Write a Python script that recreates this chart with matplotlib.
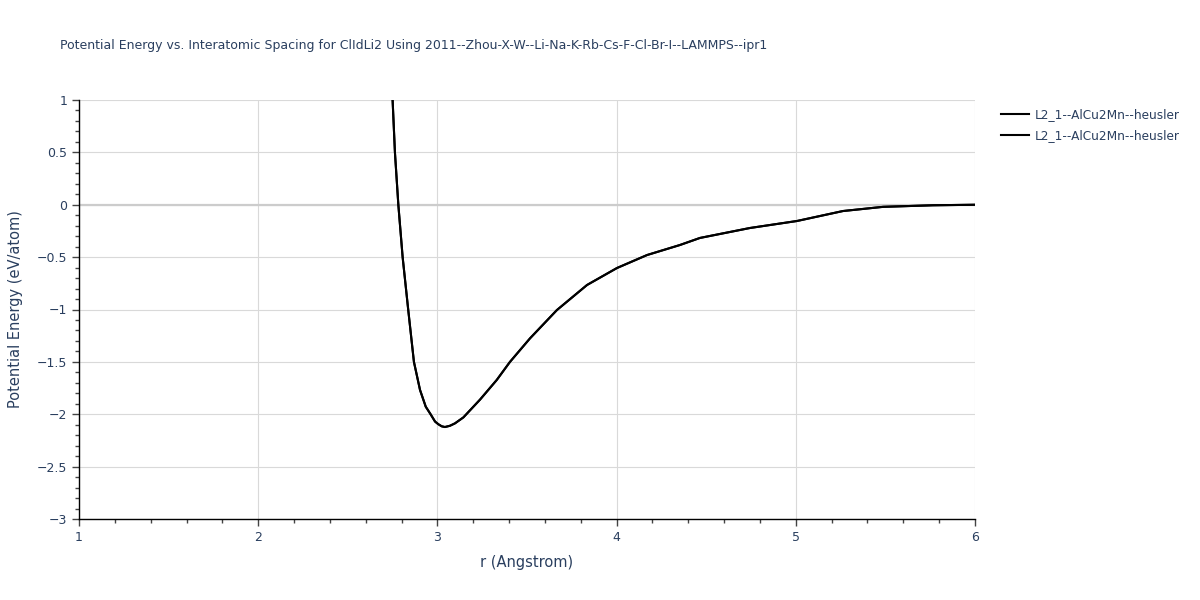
import numpy as np
import matplotlib
matplotlib.use("Agg")
import matplotlib.pyplot as plt
from matplotlib.ticker import MultipleLocator

# Data
r = [2.75, 2.763, 2.782, 2.806, 2.837, 2.869, 2.903, 2.935, 2.962, 2.987,
     3.005, 3.024, 3.042, 3.07, 3.098, 3.145, 3.238, 3.331, 3.405, 3.517,
     3.667, 3.835, 4.002, 4.17, 4.354, 4.465, 4.744, 5.007, 5.263, 5.487,
     5.766, 6.0]
energy = [1.0, 0.5, 0.0, -0.5, -1.0, -1.5, -1.768, -1.928, -2.0, -2.07,
          -2.095, -2.115, -2.122, -2.11, -2.087, -2.03, -1.86, -1.673, -1.50, -1.275,
          -1.005, -0.766, -0.604, -0.48, -0.384, -0.317, -0.222, -0.155, -0.06, -0.02,
          -0.005, 0.0]
series_names = ["L2_1--AlCu2Mn--heusler", "L2_1--AlCu2Mn--heusler"]

title = "Potential Energy vs. Interatomic Spacing for ClIdLi2 Using 2011--Zhou-X-W--Li-Na-K-Rb-Cs-F-Cl-Br-I--LAMMPS--ipr1"
text_col = "#2a3f5f"

fig = plt.figure(figsize=(12, 6), dpi=100)
ax = fig.add_axes([79/1200, 1-519/600, (975-79)/1200, (519-100)/600])

for name in series_names:
    ax.plot(r, energy, color="black", lw=1.5, label=name, solid_joinstyle="round")

ax.set_xlim(1, 6)
ax.set_ylim(-3, 1)
ax.xaxis.set_major_locator(MultipleLocator(1))
ax.xaxis.set_minor_locator(MultipleLocator(0.2))
ax.yaxis.set_major_locator(MultipleLocator(0.5))
ax.yaxis.set_minor_locator(MultipleLocator(0.1))
ax.yaxis.set_major_formatter(plt.FuncFormatter(lambda v, p: ("%g" % v).replace("-", "\u2212")))

ax.grid(True, which="major", color="#d9d9d9", lw=0.8)
ax.set_axisbelow(True)
ax.axhline(0, color="#cccccc", lw=1.6, zorder=1)

for s in ["top", "right"]:
    ax.spines[s].set_visible(False)
for s in ["left", "bottom"]:
    ax.spines[s].set_color("black")
    ax.spines[s].set_linewidth(1.0)

ax.tick_params(which="major", direction="out", length=5, width=1, color="#444444",
               labelsize=9, labelcolor=text_col)
ax.tick_params(which="minor", direction="out", length=3, width=1, color="#444444")

ax.set_xlabel("r (Angstrom)", fontsize=10.5, color=text_col, labelpad=8)
ax.set_ylabel("Potential Energy (eV/atom)", fontsize=10.5, color=text_col, labelpad=10)

fig.text(60/1200, 1-45/600, title, fontsize=9, color=text_col, va="center", ha="left")

leg = ax.legend(loc="upper left", bbox_to_anchor=(1.02, 1.0), frameon=False,
                fontsize=8.7, handlelength=2.3, handletextpad=0.5,
                labelspacing=0.65, borderaxespad=0.3)
for t in leg.get_texts():
    t.set_color(text_col)

fig.savefig("out.png", dpi=100)
